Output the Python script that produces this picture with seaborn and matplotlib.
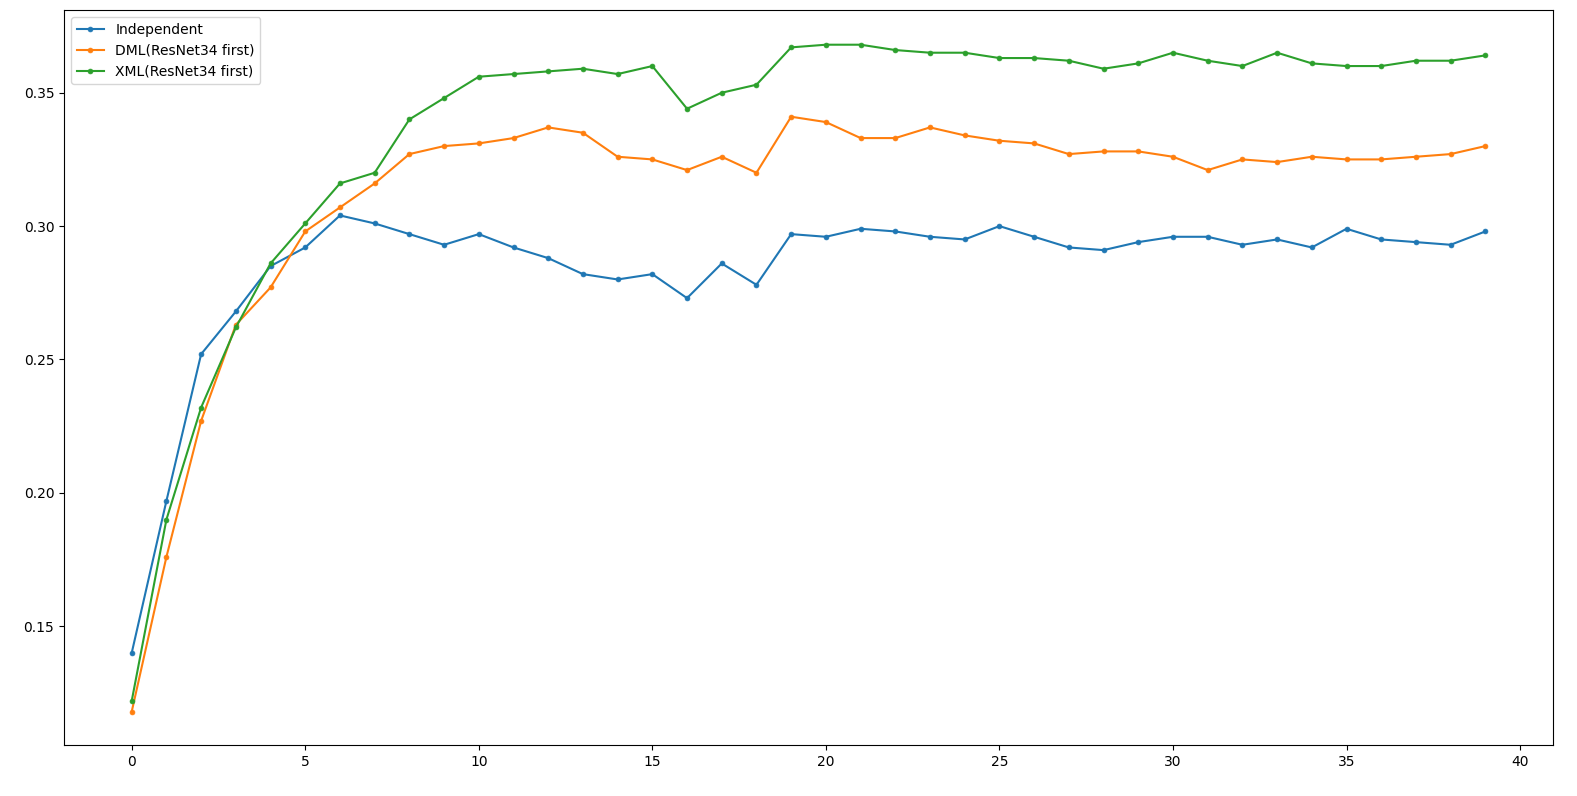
import numpy as np
import pandas as pd
import matplotlib
matplotlib.use("Agg")
import matplotlib.pyplot as plt
import seaborn as sns

epochs = list(range(40))

independent = [0.140, 0.197, 0.252, 0.268, 0.285, 0.292, 0.304, 0.301, 0.297, 0.293,
               0.297, 0.292, 0.288, 0.282, 0.280, 0.282, 0.273, 0.286, 0.278, 0.297,
               0.296, 0.299, 0.298, 0.296, 0.295, 0.300, 0.296, 0.292, 0.291, 0.294,
               0.296, 0.296, 0.293, 0.295, 0.292, 0.299, 0.295, 0.294, 0.293, 0.298]

dml = [0.118, 0.176, 0.227, 0.263, 0.277, 0.298, 0.307, 0.316, 0.327, 0.330,
       0.331, 0.333, 0.337, 0.335, 0.326, 0.325, 0.321, 0.326, 0.320, 0.341,
       0.339, 0.333, 0.333, 0.337, 0.334, 0.332, 0.331, 0.327, 0.328, 0.328,
       0.326, 0.321, 0.325, 0.324, 0.326, 0.325, 0.325, 0.326, 0.327, 0.330]

xml = [0.122, 0.190, 0.232, 0.262, 0.286, 0.301, 0.316, 0.320, 0.340, 0.348,
       0.356, 0.357, 0.358, 0.359, 0.357, 0.360, 0.344, 0.350, 0.353, 0.367,
       0.368, 0.368, 0.366, 0.365, 0.365, 0.363, 0.363, 0.362, 0.359, 0.361,
       0.365, 0.362, 0.360, 0.365, 0.361, 0.360, 0.360, 0.362, 0.362, 0.364]

labels = ["Independent", "DML(ResNet34 first)", "XML(ResNet34 first)"]
colors = ["#1f77b4", "#ff7f0e", "#2ca02c"]

fig, ax = plt.subplots(figsize=(15.77, 7.96), dpi=100)
fig.subplots_adjust(left=0.0406, right=0.9848, top=0.9874, bottom=0.0641)

for vals, lab, col in zip([independent, dml, xml], labels, colors):
    sns.lineplot(x=epochs, y=vals, ax=ax, label=lab, color=col, marker=".",
                 markersize=7, markeredgecolor=col, markeredgewidth=0.5, linewidth=1.5)

ax.set_xticks([0, 5, 10, 15, 20, 25, 30, 35, 40])
ax.set_yticks([0.15, 0.20, 0.25, 0.30, 0.35])
ax.set_xlim(-1.95, 40.95)
ax.set_ylim(0.1055, 0.381)
ax.legend(loc="upper left")

fig.savefig("out.png", dpi=100)
